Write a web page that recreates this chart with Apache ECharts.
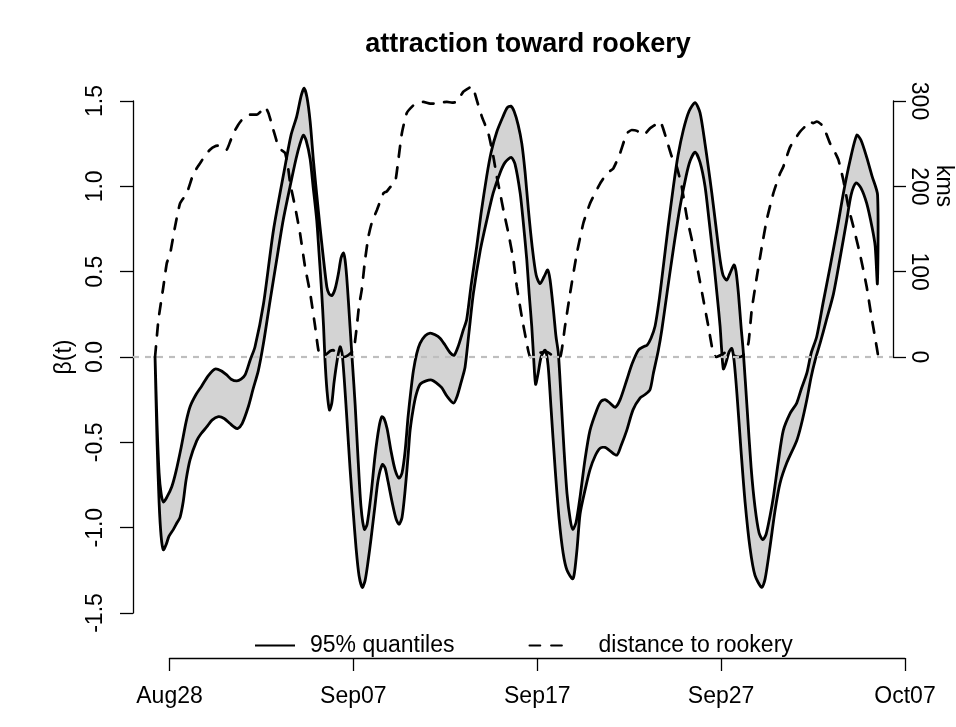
<!DOCTYPE html>
<html>
<head>
<meta charset="utf-8">
<script src="https://cdn.jsdelivr.net/npm/echarts@6/dist/echarts.min.js"></script>
<style>
  html, body { margin: 0; padding: 0; background: #ffffff; }
  #chart { width: 956px; height: 727px; }
</style>
</head>
<body>
<div id="chart"></div>
<script>
// Tick labels of the date axis (one every 10 days, day 0 = Aug 28)
const dateLabels = ['Aug28', 'Sep07', 'Sep17', 'Sep27', 'Oct07'];

// Upper 95% quantile of beta(t): [day since Aug 28, beta]
const upperQ = [
  [-0.79, 0], [-0.68, -0.40], [-0.57, -0.68], [-0.46, -0.80], [-0.33, -0.85], [-0.14, -0.82],
  [0.12, -0.76], [0.35, -0.67], [0.63, -0.53], [0.90, -0.38], [1.12, -0.29], [1.44, -0.22],
  [1.75, -0.17], [2.10, -0.11], [2.48, -0.07], [2.80, -0.08], [3.11, -0.105], [3.35, -0.13],
  [3.66, -0.14], [3.89, -0.13], [4.11, -0.105], [4.38, -0.02], [4.65, 0.06], [5.11, 0.31],
  [5.65, 0.74], [6.29, 1.12], [6.61, 1.30], [6.92, 1.41], [7.16, 1.53], [7.32, 1.575],
  [7.48, 1.52], [7.65, 1.38], [7.83, 1.15], [8.01, 0.95], [8.19, 0.76], [8.37, 0.58],
  [8.56, 0.41], [8.68, 0.37], [8.83, 0.36], [9.01, 0.40], [9.19, 0.49], [9.33, 0.58],
  [9.46, 0.61], [9.55, 0.57], [9.64, 0.47], [9.73, 0.33], [9.82, 0.18], [9.93, 0.00],
  [10.10, -0.28], [10.26, -0.60], [10.42, -0.88], [10.60, -1.01], [10.75, -0.98], [10.97, -0.80],
  [11.18, -0.58], [11.40, -0.41], [11.55, -0.35], [11.67, -0.36], [11.84, -0.42], [12.05, -0.55],
  [12.27, -0.66], [12.49, -0.71], [12.65, -0.68], [12.82, -0.55], [12.98, -0.35], [13.13, -0.20],
  [13.27, -0.08], [13.45, 0.02], [13.63, 0.08], [13.91, 0.125], [14.18, 0.14], [14.45, 0.13],
  [14.72, 0.11], [14.99, 0.07], [15.27, 0.025], [15.48, 0.01], [15.70, 0.06], [15.99, 0.16],
  [16.17, 0.22], [16.41, 0.42], [16.72, 0.65], [16.95, 0.84], [17.26, 1.06], [17.50, 1.20],
  [17.81, 1.32], [18.15, 1.41], [18.37, 1.46], [18.57, 1.47], [18.75, 1.44], [18.97, 1.36],
  [19.17, 1.25], [19.35, 1.08], [19.53, 0.86], [19.73, 0.65], [19.95, 0.48], [20.16, 0.43],
  [20.38, 0.47], [20.58, 0.51], [20.71, 0.45], [20.89, 0.275], [21.03, 0.12], [21.16, 0.02],
  [21.31, -0.25], [21.47, -0.55], [21.63, -0.80], [21.80, -0.95], [21.94, -1.01], [22.12, -0.97],
  [22.34, -0.82], [22.61, -0.60], [22.88, -0.43], [23.25, -0.31], [23.48, -0.26], [23.70, -0.25],
  [23.97, -0.27], [24.25, -0.295], [24.52, -0.25], [24.88, -0.135], [25.17, -0.04], [25.51, 0.04],
  [25.79, 0.06], [25.99, 0.07], [26.20, 0.11], [26.42, 0.18], [26.64, 0.33], [26.87, 0.53],
  [27.13, 0.76], [27.42, 1.00], [27.67, 1.18], [27.96, 1.33], [28.27, 1.44], [28.60, 1.49],
  [28.87, 1.43], [29.14, 1.25], [29.31, 1.12], [29.51, 0.96], [29.74, 0.76], [29.96, 0.57],
  [30.12, 0.48], [30.32, 0.45], [30.50, 0.49], [30.72, 0.54], [30.83, 0.50], [30.96, 0.37],
  [31.10, 0.18], [31.23, 0.02], [31.43, -0.30], [31.65, -0.65], [31.86, -0.88], [32.08, -1.03],
  [32.28, -1.07], [32.46, -1.04], [32.68, -0.93], [32.86, -0.82], [33.12, -0.62], [33.40, -0.43],
  [33.77, -0.33], [34.13, -0.27], [34.37, -0.19], [34.68, -0.095], [34.91, 0.02], [35.22, 0.12],
  [35.57, 0.32], [35.95, 0.53], [36.33, 0.75], [36.67, 0.96], [37.03, 1.15], [37.40, 1.30],
  [37.63, 1.27], [37.94, 1.17], [38.23, 1.06], [38.53, 0.95]
];

// Lower 95% quantile of beta(t): [day since Aug 28, beta]
const lowerQ = [
  [-0.79, 0], [-0.68, -0.50], [-0.57, -0.85], [-0.46, -1.05], [-0.34, -1.13], [-0.19, -1.10],
  [-0.03, -1.05], [0.21, -1.01], [0.41, -0.97], [0.57, -0.94], [0.74, -0.85], [0.90, -0.72],
  [1.12, -0.60], [1.48, -0.49], [1.71, -0.45], [2.02, -0.41], [2.31, -0.37], [2.66, -0.35],
  [2.97, -0.36], [3.29, -0.39], [3.51, -0.41], [3.69, -0.42], [3.95, -0.39], [4.29, -0.29],
  [4.54, -0.19], [4.83, -0.08], [5.11, 0.08], [5.47, 0.33], [5.83, 0.57], [6.18, 0.80],
  [6.56, 1.00], [6.88, 1.16], [7.10, 1.25], [7.28, 1.30], [7.43, 1.27], [7.65, 1.16],
  [7.81, 1.00], [8.01, 0.80], [8.14, 0.60], [8.28, 0.375], [8.38, 0.18], [8.46, -0.02],
  [8.57, -0.20], [8.70, -0.31], [8.83, -0.27], [8.95, -0.15], [9.12, -0.02], [9.28, 0.06],
  [9.39, 0.02], [9.50, -0.12], [9.66, -0.38], [9.82, -0.65], [9.99, -0.90], [10.15, -1.12],
  [10.31, -1.28], [10.49, -1.35], [10.64, -1.31], [10.80, -1.20], [10.97, -1.06], [11.18, -0.87],
  [11.35, -0.72], [11.58, -0.63], [11.73, -0.65], [11.89, -0.73], [12.11, -0.85], [12.33, -0.95],
  [12.49, -0.98], [12.65, -0.94], [12.82, -0.78], [12.98, -0.58], [13.09, -0.43], [13.25, -0.31],
  [13.42, -0.22], [13.63, -0.16], [13.96, -0.14], [14.27, -0.135], [14.50, -0.15], [14.81, -0.18],
  [15.10, -0.23], [15.45, -0.27], [15.65, -0.23], [15.90, -0.135], [16.08, -0.06], [16.30, 0.15],
  [16.53, 0.37], [16.90, 0.62], [17.26, 0.80], [17.61, 0.96], [17.99, 1.08], [18.26, 1.14],
  [18.59, 1.17], [18.80, 1.13], [19.08, 0.96], [19.24, 0.80], [19.44, 0.57], [19.57, 0.37],
  [19.71, 0.18], [19.81, 0.00], [19.92, -0.16], [20.05, -0.10], [20.22, 0.00], [20.44, 0.04],
  [20.60, -0.05], [20.76, -0.30], [20.98, -0.65], [21.20, -0.95], [21.42, -1.15], [21.63, -1.25],
  [21.94, -1.30], [22.04, -1.26], [22.18, -1.12], [22.34, -0.92], [22.61, -0.78], [22.88, -0.66],
  [23.16, -0.58], [23.43, -0.535], [23.70, -0.53], [23.97, -0.55], [24.34, -0.575], [24.57, -0.52],
  [24.88, -0.43], [25.22, -0.31], [25.61, -0.24], [25.88, -0.22], [26.15, -0.19], [26.33, -0.095],
  [26.60, 0.04], [26.79, 0.16], [27.08, 0.38], [27.40, 0.62], [27.78, 0.88], [28.11, 1.06],
  [28.33, 1.15], [28.60, 1.20], [28.87, 1.14], [29.14, 1.00], [29.36, 0.80], [29.60, 0.57],
  [29.80, 0.36], [29.96, 0.18], [30.04, 0.05], [30.14, -0.07], [30.29, -0.03], [30.45, 0.03],
  [30.60, 0.05], [30.72, -0.02], [30.88, -0.22], [31.10, -0.55], [31.32, -0.85], [31.59, -1.12],
  [31.86, -1.28], [32.23, -1.35], [32.41, -1.30], [32.68, -1.11], [32.95, -0.90], [33.22, -0.74],
  [33.59, -0.62], [34.13, -0.49], [34.37, -0.40], [34.68, -0.25], [34.91, -0.12], [35.13, -0.02],
  [35.40, 0.08], [35.73, 0.21], [36.13, 0.37], [36.49, 0.58], [36.85, 0.80], [37.09, 0.95],
  [37.36, 1.02], [37.63, 0.99], [37.94, 0.90], [38.23, 0.76], [38.40, 0.65], [38.52, 0.43]
];

// Distance to the rookery in km: [day since Aug 28, kms]
const distanceKm = [
  [-0.79, 0], [-0.61, 43], [-0.46, 65], [-0.34, 82], [-0.15, 110], [0.03, 121], [0.30, 153],
  [0.57, 180], [0.94, 192], [1.30, 215], [1.66, 227], [1.93, 236], [2.20, 243], [2.48, 247],
  [2.75, 248], [2.97, 246], [3.11, 243], [3.29, 252], [3.47, 262], [3.73, 272], [4.02, 280],
  [4.38, 284], [4.75, 284], [4.98, 288], [5.20, 293], [5.38, 286], [5.52, 276], [5.65, 266],
  [5.80, 255], [5.92, 246], [6.12, 242], [6.29, 239], [6.45, 222], [6.56, 204], [6.83, 176],
  [7.10, 145], [7.37, 106], [7.65, 75], [7.92, 36], [8.10, 8], [8.28, 0], [8.52, 3], [8.74, 7],
  [8.91, 8], [9.12, 4], [9.28, 2], [9.46, 0], [9.71, 2], [9.93, 6], [10.04, 10], [10.19, 36],
  [10.31, 60], [10.46, 79], [10.64, 114], [10.82, 141], [11.00, 157], [11.28, 172], [11.64, 192],
  [11.82, 194], [12.00, 199], [12.27, 204], [12.45, 231], [12.64, 262], [12.91, 286], [13.27, 295],
  [13.52, 298], [13.81, 299], [14.18, 297], [14.45, 297], [14.72, 298], [15.09, 299], [15.37, 298],
  [15.63, 299], [15.81, 305], [15.99, 311], [16.19, 314], [16.45, 317], [16.57, 312], [16.72, 301],
  [16.99, 282], [17.35, 262], [17.62, 235], [17.81, 211], [17.99, 192], [18.17, 172], [18.44, 145],
  [18.71, 114], [18.90, 82], [19.17, 47], [19.44, 16], [19.62, 0], [19.89, 2], [20.16, 5],
  [20.53, 6], [20.76, 3], [20.98, 1], [21.25, 0], [21.52, 36], [21.80, 75], [22.16, 121],
  [22.52, 157], [22.88, 180], [23.25, 196], [23.48, 205], [23.79, 215], [24.15, 221], [24.52, 239],
  [24.88, 262], [25.15, 266], [25.44, 265], [25.79, 260], [26.15, 268], [26.42, 272], [26.60, 276],
  [26.79, 272], [27.06, 254], [27.33, 235], [27.60, 223], [27.87, 200], [28.15, 164], [28.51, 129],
  [28.78, 98], [29.05, 67], [29.32, 36], [29.59, 4], [29.74, 0], [30.07, 3], [30.32, 6], [30.56, 4],
  [30.78, 1], [31.05, 0], [31.23, 2], [31.50, 16], [31.68, 55], [31.96, 94], [32.23, 129],
  [32.50, 161], [32.86, 192], [33.22, 215], [33.40, 223], [33.77, 246], [34.31, 264], [34.58, 270],
  [34.86, 276], [35.02, 274], [35.22, 276], [35.49, 272], [35.73, 262], [35.95, 250], [36.16, 242],
  [36.40, 231], [36.67, 207], [36.94, 176], [37.21, 153], [37.57, 121], [37.94, 82], [38.20, 47],
  [38.48, 12], [38.57, 0]
];

const FONT = '"Liberation Sans", Arial, Helvetica, sans-serif';
const INK = '#000000';

// Day range covered by the plotting region (left and right axis lines)
const dayMin = -1.99;
const dayMax = 39.37;

// Closed outline of the quantile band: upper edge, then lower edge backwards
const bandOutline = upperQ.concat(lowerQ.slice().reverse());

const axisLineStyle = { color: INK, width: 1.3 };
const labelStyle = { color: INK, fontSize: 23, fontFamily: FONT };
const bandEdge = { color: INK, width: 2.8 };

const chart = echarts.init(document.getElementById('chart'), null, {
  renderer: 'canvas', width: 956, height: 727
});

chart.setOption({
  animation: false,
  backgroundColor: '#ffffff',
  textStyle: { fontFamily: FONT },
  graphic: [
    {
      type: 'text', x: 528, y: 45, silent: true,
      style: {
        text: 'attraction toward rookery', fill: INK,
        font: 'bold 27px ' + FONT,
        align: 'center', verticalAlign: 'middle',
        textAlign: 'center', textVerticalAlign: 'middle'
      }
    },
    {
      type: 'text', x: 943, y: 186, rotation: -Math.PI / 2, silent: true,
      style: {
        text: 'kms', fill: INK, font: '23px ' + FONT,
        align: 'center', verticalAlign: 'middle',
        textAlign: 'center', textVerticalAlign: 'middle'
      }
    }
  ],
  grid: [
    { left: 133, right: 63, top: 101, height: 512 },   // beta(t)
    { left: 133, right: 63, top: 101, height: 256 },   // kms (upper half)
    { left: 169.5, right: 51, top: 648, height: 10 }   // date axis
  ],
  legend: {
    data: [
      { name: '95% quantiles', textStyle: { padding: [0, 0, 0, 10] } },
      { name: 'distance to rookery', textStyle: { padding: [0, 0, 0, 24] } }
    ],
    left: 249, top: 629,
    itemWidth: 40, itemHeight: 24, itemGap: 74,
    itemStyle: { opacity: 0 },
    textStyle: { color: INK, fontSize: 23, fontFamily: FONT },
    selectedMode: false
  },
  xAxis: [
    { gridIndex: 0, type: 'value', min: dayMin, max: dayMax, show: false },
    { gridIndex: 1, type: 'value', min: dayMin, max: dayMax, show: false },
    {
      gridIndex: 2, type: 'value', min: 0, max: 40, interval: 10, position: 'bottom',
      axisLine: { show: true, onZero: false, lineStyle: axisLineStyle },
      axisTick: { show: true, inside: false, length: 13, lineStyle: axisLineStyle },
      axisLabel: Object.assign({ margin: 27, formatter: v => dateLabels[Math.round(v / 10)] }, labelStyle),
      splitLine: { show: false }
    }
  ],
  yAxis: [
    {
      gridIndex: 0, type: 'value', min: -1.5, max: 1.5, interval: 0.5,
      axisLine: { show: true, onZero: false, lineStyle: axisLineStyle },
      axisTick: { show: true, inside: false, length: 13, lineStyle: axisLineStyle },
      axisLabel: Object.assign({ rotate: 90, margin: 26, formatter: v => v.toFixed(1) }, labelStyle),
      splitLine: { show: false },
      name: 'β(t)', nameLocation: 'middle', nameGap: 47, nameRotate: 90,
      nameTextStyle: labelStyle
    },
    {
      gridIndex: 1, type: 'value', min: 0, max: 300, interval: 100, position: 'right',
      axisLine: { show: true, onZero: false, lineStyle: axisLineStyle },
      axisTick: { show: true, inside: false, length: 13, lineStyle: axisLineStyle },
      axisLabel: Object.assign({ rotate: -90, margin: 14 }, labelStyle),
      splitLine: { show: false }
    },
    { gridIndex: 2, type: 'value', show: false }
  ],
  series: [
    {
      // horizontal reference at beta = 0
      name: 'zero', type: 'line', xAxisIndex: 0, yAxisIndex: 0, data: [], z: 1,
      silent: true,
      markLine: {
        silent: true, symbol: ['none', 'none'], animation: false,
        label: { show: false },
        lineStyle: { color: '#bebebe', width: 2.2, type: [6, 6] },
        emphasis: { disabled: true },
        data: [{ yAxis: 0 }]
      }
    },
    {
      // quantile band: grey fill with a black border, from both quantile curves
      name: 'band', type: 'custom', xAxisIndex: 0, yAxisIndex: 0, z: 2, silent: true,
      data: [[0, 0]],
      renderItem: function (params, api) {
        const pts = bandOutline.map(p => api.coord(p));
        return {
          type: 'polygon',
          shape: { points: pts, smooth: 0.25 },
          style: { fill: '#d3d3d3', stroke: bandEdge.color, lineWidth: bandEdge.width, lineJoin: 'round' }
        };
      }
    },
    {
      // legend entry for the band border
      name: '95% quantiles', type: 'line', xAxisIndex: 0, yAxisIndex: 0, z: 3,
      data: [], symbol: 'none', silent: true, color: INK,
      lineStyle: bandEdge
    },
    {
      name: 'distance to rookery', type: 'line', xAxisIndex: 1, yAxisIndex: 1, z: 4,
      data: distanceKm, symbol: 'none', clip: false, silent: true, smooth: 0.15,
      color: INK,
      lineStyle: { color: INK, width: 2.7, type: [10.8, 10.8], cap: 'round', join: 'round' },
      emphasis: { disabled: true }
    }
  ]
});
</script>
</body>
</html>
